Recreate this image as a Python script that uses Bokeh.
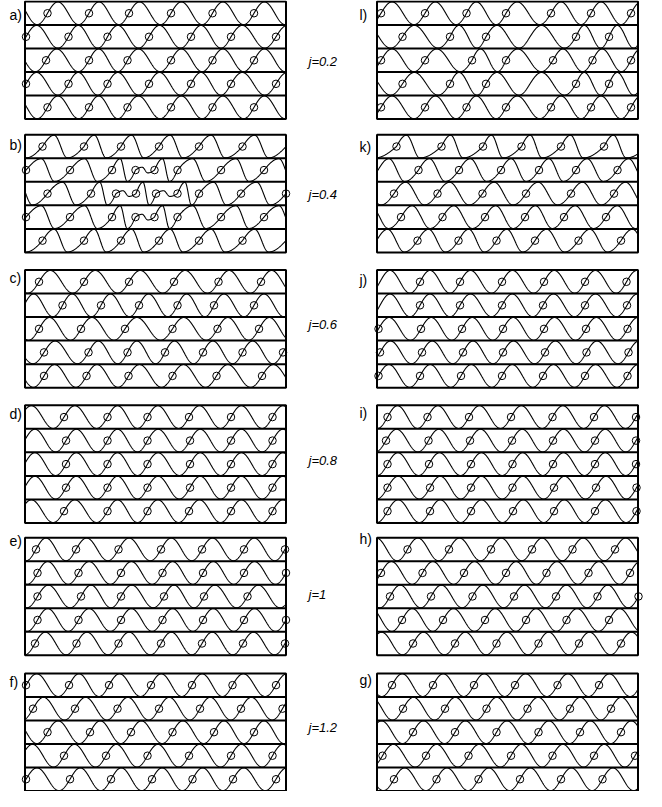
import numpy as np
from bokeh.plotting import figure
from bokeh.models import Range1d
from bokeh.core.properties import value
from bokeh.embed import file_html
from bokeh.resources import INLINE

# ---------------- data: kink (phi) positions along each strip, strip units 0..261
a_rows = [
    [22.5, 64, 104, 146, 187.5, 229],
    [1, 43.5, 82.5, 124, 166, 206, 251],
    [21, 64, 102.5, 146, 187.5, 229],
    [1, 43.5, 82.5, 124, 166, 206, 251],
    [22.5, 64, 102.5, 146, 187.5, 229],
]
b_rows = [
    [17.5, 59, 96, 134, 174, 217.5],
    [1, 45, 87, 110.5, 129.5, 152.5, 196, 239],
    [22.5, 66, 91, 111, 131, 152.5, 174, 216, 261],
    [1, 45, 87, 110.5, 129.5, 152.5, 196, 239],
    [17.5, 59, 96, 134, 174, 217.5],
]
c_rows = [
    [14, 59, 104, 149, 193.5, 236],
    [37.5, 76, 114, 152.5, 189, 229],
    [14, 56, 100, 147.5, 192.5, 234],
    [19, 63.5, 102.5, 140, 178, 217.5, 258],
    [19, 61.5, 103.5, 147.5, 191.5, 237],
]
d_rows = [
    [39, 82.5, 122.5, 164, 206, 247.5],
    [41, 82.5, 122.5, 165, 206, 247.5],
    [41, 82.5, 122.5, 165, 206, 247.5],
    [41, 82.5, 122.5, 165, 206, 247.5],
    [39, 82.5, 122.5, 164, 206, 247.5],
]
e_rows = [
    [11, 51, 93.5, 136, 177, 219, 260],
    [12.5, 53.5, 96, 137.5, 178, 219, 261],
    [12.5, 56, 96, 139, 179, 222.5],
    [12.5, 53.5, 96, 137.5, 178, 219, 261],
    [10, 51.5, 93.5, 136, 177, 218, 260],
]
f_rows = [
    [1, 44, 84, 126, 167, 207.5, 251],
    [8, 50, 92.5, 134, 175, 216, 257.5],
    [22.5, 65, 106, 147.5, 189, 229],
    [39, 81, 122.5, 164, 206, 247.5],
    [1, 45, 86, 127, 167.5, 208, 251],
]
l_rows = [
    [4, 48, 89.5, 129, 174, 214, 254],
    [25.5, 73, 109, 199, 232],
    [4, 48, 95, 129, 176, 215.5, 254],
    [25.5, 73, 109, 199, 232],
    [4, 48, 89.5, 129, 174, 214, 254],
]
k_rows = [
    [19.5, 64.5, 106, 144.5, 184, 227],
    [41.5, 82, 124, 162, 199, 240.5],
    [17, 60.5, 105.5, 149, 194, 237],
    [24, 65.5, 108, 148, 187, 229],
    [40.5, 81.5, 119.5, 158, 201.5, 244],
]
j_rows = [
    [43, 83, 125, 167, 208, 249.5],
    [43, 83, 125, 166, 208, 250],
    [1.5, 44, 85, 126, 167, 209, 250.5],
    [3, 45, 86, 126, 168, 209.5, 251.5],
    [1.5, 43, 84, 125, 166, 208, 250.5],
]
i_rows = [
    [10.5, 50.5, 92, 134, 175.5, 217, 259],
    [9, 51.5, 93, 135, 176, 218, 259],
    [10.5, 52, 94, 135.5, 176, 218, 259],
    [10.5, 53, 94, 135.5, 177, 219, 259.5],
    [10.5, 53, 94, 136, 177, 218, 259.5],
]
h_rows = [
    [30.5, 72, 114, 155, 195.5, 238],
    [4, 45.5, 87, 129, 169.5, 211.5, 253],
    [13, 54, 95.5, 137, 179, 220.5, 261.5],
    [25, 66, 108, 149, 189.5, 232],
    [36, 78, 119.5, 161.5, 202, 244],
]
g_rows = [
    [15, 56, 97, 138, 180.5, 222],
    [26, 68, 109.5, 150.5, 193, 234],
    [36, 78, 119.5, 161.5, 203, 244],
    [5.5, 49, 91.5, 134, 175.5, 217, 258],
    [17, 59.5, 101.5, 143, 184, 225.5],
]

# rising crossings without a marker, and small-amplitude cycles (start kink)
extra_crossings = {"l": {1: [153], 3: [153]}}
weak_cycles = {"b": {1: [110.5], 2: [91, 131], 3: [110.5]}}
# cycle fractions of peak and trough after each rising crossing
wave_shape = {
    "b": [(0.28, 0.60), (0.35, 0.65), (0.35, 0.65), (0.35, 0.65), (0.28, 0.60)],
    "k": [(0.22, 0.52), (0.27, 0.66), (0.27, 0.70), (0.27, 0.70), (0.27, 0.68)],
}

left_names = ["a", "b", "c", "d", "e", "f"]
right_names = ["l", "k", "j", "i", "h", "g"]
j_labels = ["j=0.2", "j=0.4", "j=0.6", "j=0.8", "j=1", "j=1.2"]
rows_by_name = {"a": a_rows, "b": b_rows, "c": c_rows, "d": d_rows, "e": e_rows,
                "f": f_rows, "l": l_rows, "k": k_rows, "j": j_rows, "i": i_rows,
                "h": h_rows, "g": g_rows}

# ---------------- layout
PANEL_W = 261.0
ROW_H = 24.0
N_ROWS = 5
AMP = 11.6
LEFT_X0 = 32.5
RIGHT_X0 = 384.5
PANEL_TOPS = [1, 137, 275, 413, 548, 686.5]
LEFT_LABEL_Y = [15, 147, 283, 422, 551, 695]
RIGHT_LABEL_Y = [15, 149, 285, 421, 549, 693]
J_LABEL_Y = [62, 198, 331, 469, 606, 742]


def strip_curve(kinks, extra, weak, p1, p2):
    c = np.sort(np.array(list(kinks) + list(extra), dtype=float))
    d0 = c[1] - c[0]
    d1 = c[-1] - c[-2]
    ext = np.concatenate([c[0] - d0 * np.arange(8, 0, -1), c, c[-1] + d1 * np.arange(1, 9)])
    x = np.linspace(0, PANEL_W, 1045)
    ph = np.interp(x, ext, np.arange(len(ext), dtype=float))
    k = np.clip(np.floor(ph).astype(int), 0, len(ext) - 1)
    fr = ph - k
    y = np.where(fr < p1, np.sin(np.pi / 2 * fr / p1),
                 np.where(fr < p2, np.cos(np.pi * (fr - p1) / (p2 - p1)),
                          -np.cos(np.pi / 2 * (fr - p2) / (1 - p2))))
    amp = np.ones_like(x)
    starts = ext[k]
    for w in weak:
        amp[np.isclose(starts, w)] = 0.25
    return x, y * amp


p = figure(width=646, height=791, x_range=Range1d(8, 654), y_range=Range1d(807, 0),
           output_backend="svg", toolbar_location=None, x_axis_type=None,
           y_axis_type=None, min_border=0, outline_line_color=None,
           background_fill_color="white", border_fill_color="white")

xs, ys = [], []
cx, cy = [], []
sx0, sx1, sy = [], [], []
bl, br, bt, bb = [], [], [], []

for col_names, x0 in ((left_names, LEFT_X0), (right_names, RIGHT_X0)):
    for pi, name in enumerate(col_names):
        top = PANEL_TOPS[pi]
        rows = rows_by_name[name]
        shapes = wave_shape.get(name, [(0.25, 0.75)] * N_ROWS)
        for ri, kinks in enumerate(rows):
            extra = extra_crossings.get(name, {}).get(ri, [])
            weak = weak_cycles.get(name, {}).get(ri, [])
            p1, p2 = shapes[ri]
            lx, ly = strip_curve(kinks, extra, weak, p1, p2)
            yc = top + ROW_H * (ri + 0.5)
            xs.append(list(x0 + lx))
            ys.append(list(yc - AMP * ly))
            for kx in kinks:
                cx.append(x0 + kx)
                cy.append(yc)
        for ri in range(1, N_ROWS):
            sx0.append(x0)
            sx1.append(x0 + PANEL_W)
            sy.append(top + ROW_H * ri)
        bl.append(x0)
        br.append(x0 + PANEL_W)
        bt.append(top)
        bb.append(top + ROW_H * N_ROWS)

p.multi_line(xs=xs, ys=ys, line_color="black", line_width=1.1)
p.segment(x0=sx0, y0=sy, x1=sx1, y1=sy, line_color="black", line_width=2)
p.quad(left=bl, right=br, top=bt, bottom=bb, fill_color=None,
       line_color="black", line_width=2)
p.scatter(x=cx, y=cy, marker="circle", size=7.5, fill_color=None,
          line_color="black", line_width=1)

p.text(x=[17] * 6, y=LEFT_LABEL_Y, text=[n + ")" for n in left_names],
       text_font=value("Liberation Sans"), text_font_size="14px",
       text_baseline="middle", text_align="left", text_color="black")
p.text(x=[367] * 6, y=RIGHT_LABEL_Y, text=[n + ")" for n in right_names],
       text_font=value("Liberation Sans"), text_font_size="14px",
       text_baseline="middle", text_align="left", text_color="black")
p.text(x=[316] * 6, y=J_LABEL_Y, text=j_labels,
       text_font=value("Liberation Sans"), text_font_size="13px",
       text_font_style="italic", text_baseline="middle", text_align="left",
       text_color="black")

open("out.html", "w").write(file_html(p, INLINE))
